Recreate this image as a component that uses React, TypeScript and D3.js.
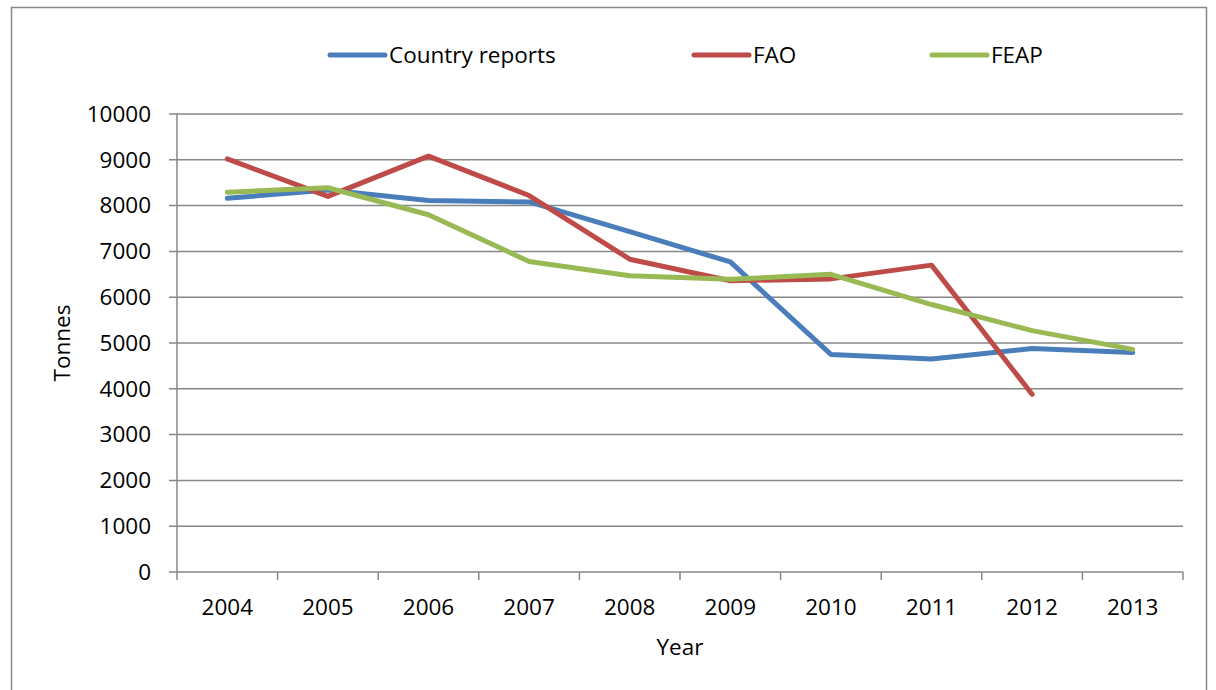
import React, { useEffect, useRef } from "react";
import * as d3 from "d3";

const years = ["2004", "2005", "2006", "2007", "2008", "2009", "2010", "2011", "2012", "2013"];
const countryReports = [8160, 8340, 8110, 8080, 7430, 6770, 4750, 4650, 4880, 4790];
const fao = [9020, 8200, 9080, 8220, 6830, 6360, 6400, 6700, 3880, null];
const feap = [8290, 8390, 7800, 6780, 6470, 6390, 6500, 5840, 5270, 4860];
const yTicks = [0, 1000, 2000, 3000, 4000, 5000, 6000, 7000, 8000, 9000, 10000];

const seriesList = [
	{ name: "Country reports", values: countryReports, color: "#4A7EBB", legendX: 330 },
	{ name: "FAO", values: fao, color: "#BE4B48", legendX: 694 },
	{ name: "FEAP", values: feap, color: "#98B954", legendX: 932 },
];

const FONT = "'Open Sans', sans-serif";

export default function App() {
	const ref = useRef<SVGSVGElement>(null);

	useEffect(() => {
		const svg = d3.select(ref.current);
		svg.selectAll("*").remove();

		const left = 177, right = 1183, top = 114, bottom = 572;
		const x = d3.scaleBand().domain(years).range([left, right]);
		const y = d3.scaleLinear().domain([0, 10000]).range([bottom, top]);
		const grey = "#878787";

		// outer frame
		svg.append("rect")
			.attr("x", 11.5).attr("y", 7.5)
			.attr("width", 1195).attr("height", 700)
			.attr("fill", "white")
			.attr("stroke", grey).attr("stroke-width", 1.5);

		// gridlines + y ticks
		const g = svg.append("g");
		yTicks.forEach((t) => {
			g.append("line")
				.attr("x1", 169).attr("x2", t === 0 ? left : right)
				.attr("y1", y(t)).attr("y2", y(t))
				.attr("stroke", grey).attr("stroke-width", 1.5);
			g.append("text")
				.attr("x", 151).attr("y", y(t))
				.attr("dy", "0.35em")
				.attr("text-anchor", "end")
				.attr("font-family", FONT).attr("font-size", 22.5)
				.attr("fill", "#000")
				.text(t);
		});

		// axes
		g.append("line")
			.attr("x1", left).attr("x2", left).attr("y1", top).attr("y2", bottom)
			.attr("stroke", grey).attr("stroke-width", 1.5);
		g.append("line")
			.attr("x1", left).attr("x2", right).attr("y1", bottom).attr("y2", bottom)
			.attr("stroke", grey).attr("stroke-width", 1.5);

		const bounds = years.map((d) => x(d) as number).concat([right]);
		bounds.forEach((b) => {
			g.append("line")
				.attr("x1", b).attr("x2", b).attr("y1", bottom).attr("y2", bottom + 8)
				.attr("stroke", grey).attr("stroke-width", 1.5);
		});

		years.forEach((yr) => {
			g.append("text")
				.attr("x", (x(yr) as number) + x.bandwidth() / 2)
				.attr("y", 615)
				.attr("text-anchor", "middle")
				.attr("font-family", FONT).attr("font-size", 22.5)
				.text(yr);
		});

		// axis titles
		svg.append("text")
			.attr("x", 680).attr("y", 655)
			.attr("text-anchor", "middle")
			.attr("font-family", FONT).attr("font-size", 22.5)
			.text("Year");
		svg.append("text")
			.attr("transform", "translate(70,343) rotate(-90)")
			.attr("text-anchor", "middle")
			.attr("font-family", FONT).attr("font-size", 22.5)
			.text("Tonnes");

		// series
		const line = d3.line<number | null>()
			.defined((d) => d !== null)
			.x((_, i) => (x(years[i]) as number) + x.bandwidth() / 2)
			.y((d) => y(d as number));

		seriesList.forEach((s) => {
			svg.append("path")
				.datum(s.values)
				.attr("d", line)
				.attr("fill", "none")
				.attr("stroke", s.color)
				.attr("stroke-width", 5)
				.attr("stroke-linejoin", "round")
				.attr("stroke-linecap", "round");
		});

		// legend
		seriesList.forEach((s) => {
			svg.append("line")
				.attr("x1", s.legendX).attr("x2", s.legendX + 55)
				.attr("y1", 55).attr("y2", 55)
				.attr("stroke", s.color).attr("stroke-width", 5)
				.attr("stroke-linecap", "round");
			svg.append("text")
				.attr("x", s.legendX + 59).attr("y", 55)
				.attr("dy", "0.35em")
				.attr("font-family", FONT).attr("font-size", 22.5)
				.text(s.name);
		});
	}, []);

	return (
		<svg
			ref={ref}
			width={1216}
			height={690}
			style={{ position: "absolute", left: 0, top: 0, display: "block" }}
		/>
	);
}
